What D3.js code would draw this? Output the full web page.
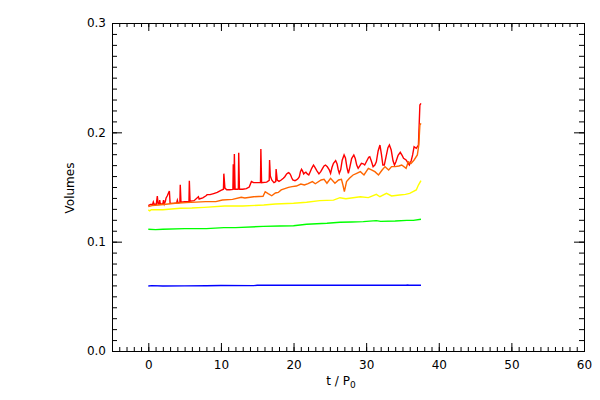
<!DOCTYPE html>
<html><head><meta charset="utf-8">
<script src="https://cdn.jsdelivr.net/npm/d3@7"></script>
<style>body{margin:0;background:#fff}svg{display:block}text{font-family:"DejaVu Sans",sans-serif;font-size:12px;fill:#000}</style>
</head><body>
<svg id="c" width="600" height="400"></svg>
<script>
const xTicks = [0, 10, 20, 30, 40, 50, 60];
const yTicks = [0.0, 0.1, 0.2, 0.3];
const xLabel = "t / P";
const yLabel = "Volumes";

const blue = [[0,0.0595],[0.5,0.0598],[2,0.0595],[5,0.0596],[8,0.0597],[10,0.0599],[14.5,0.0598],[15,0.0601],[25,0.0601],[35.5,0.0601],[35.7,0.0604],[35.9,0.0601],[37.55,0.0601]];
const green = [[0,0.1113],[1,0.1110],[2,0.1113],[5,0.1119],[8,0.1119],[10.4,0.1128],[12,0.1128],[15.8,0.1140],[18.1,0.1143],[20,0.1146],[21.8,0.1159],[24.6,0.1168],[26.4,0.1177],[28,0.1180],[29.6,0.1183],[31.4,0.1192],[32,0.1186],[34,0.1189],[35.6,0.1195],[36.5,0.1195],[37.55,0.1205]];
const yellow = [[0,0.1290],[0.2,0.1282],[0.4,0.1292],[2,0.1292],[4.4,0.1305],[6,0.1308],[7.7,0.1314],[10.5,0.1326],[13,0.1326],[15.9,0.1335],[17.5,0.1345],[20,0.1351],[21.8,0.1360],[23.6,0.1375],[25.5,0.1380],[26.4,0.1402],[27.2,0.1392],[28.2,0.1402],[29.2,0.1411],[30.3,0.1403],[31.4,0.1433],[31.9,0.1411],[32.8,0.1442],[33.5,0.1418],[34.6,0.1427],[35.4,0.1433],[36.0,0.1442],[36.9,0.1473],[37.2,0.1518],[37.55,0.1558]];
const orange = [[0,0.1320],[0.5,0.1330],[1.4,0.1335],[3.7,0.1351],[5.2,0.1357],[7.9,0.1366],[9.3,0.1366],[10.2,0.1381],[11.6,0.1387],[12.8,0.1406],[13.3,0.1400],[14.5,0.1411],[15.8,0.1415],[16.1,0.1457],[16.5,0.1440],[17.0,0.1420],[17.5,0.1445],[17.9,0.1450],[18.3,0.1473],[19.3,0.1497],[19.8,0.1503],[20.4,0.1509],[21.0,0.1527],[21.5,0.1518],[22.0,0.1530],[22.6,0.1549],[23.0,0.1530],[23.8,0.1564],[24.2,0.1570],[24.6,0.1534],[25.1,0.1580],[25.7,0.1534],[26.2,0.1564],[26.6,0.1570],[26.8,0.1518],[27.0,0.1457],[27.3,0.1550],[27.7,0.1580],[28.2,0.1610],[28.7,0.1625],[29.2,0.1640],[29.7,0.1610],[30.3,0.1671],[30.8,0.1655],[31.2,0.1640],[31.7,0.1610],[32.2,0.1655],[32.6,0.1686],[33.1,0.1655],[33.5,0.1686],[34.0,0.1686],[34.5,0.1692],[34.9,0.1701],[35.5,0.1671],[35.8,0.1731],[36.2,0.1716],[36.6,0.1747],[37.05,0.1793],[37.25,0.1884],[37.4,0.2067],[37.55,0.2083]];
const red = [[0,0.1329],[0.3,0.1340],[0.6,0.1342],[0.69,0.1363],[0.8,0.1342],[1.1,0.1342],[1.24,0.1418],[1.35,0.1345],[1.5,0.1345],[1.57,0.1380],[1.65,0.1345],[2.0,0.1345],[2.1,0.1380],[2.2,0.1345],[2.35,0.1370],[2.45,0.1400],[2.6,0.1418],[2.75,0.1440],[2.9,0.1463],[3.0,0.1350],[3.5,0.1350],[3.9,0.1355],[4.0,0.1380],[4.1,0.1355],[4.35,0.1358],[4.4,0.1521],[4.5,0.1360],[5.0,0.1365],[5.6,0.1368],[5.65,0.1558],[5.75,0.1370],[6.3,0.1375],[6.9,0.1410],[7.0,0.1390],[7.5,0.1400],[7.95,0.1420],[8.1,0.1430],[8.5,0.1430],[9.0,0.1440],[9.5,0.1450],[10.0,0.1470],[10.35,0.1480],[10.4,0.1622],[10.55,0.1490],[10.8,0.1475],[11.2,0.1475],[11.65,0.1478],[11.7,0.1708],[11.8,0.1475],[11.85,0.1802],[11.95,0.1480],[12.3,0.1480],[12.4,0.1482],[12.45,0.1814],[12.55,0.1480],[13.0,0.1480],[13.5,0.1485],[13.9,0.1500],[14.2,0.1550],[14.5,0.1540],[15.0,0.1540],[15.45,0.1542],[15.5,0.1848],[15.6,0.1540],[16.3,0.1545],[16.65,0.1560],[16.7,0.1747],[16.8,0.1600],[17.0,0.1564],[17.3,0.1540],[17.55,0.1550],[17.6,0.1665],[17.75,0.1564],[18.0,0.1552],[18.3,0.1564],[18.6,0.1580],[18.8,0.1594],[19.05,0.1620],[19.3,0.1631],[19.45,0.1625],[19.6,0.1610],[19.75,0.1585],[19.9,0.1564],[20.2,0.1558],[20.4,0.1564],[20.6,0.1575],[20.8,0.1594],[20.95,0.1640],[21.1,0.1662],[21.25,0.1645],[21.4,0.1620],[21.55,0.1630],[21.7,0.1635],[21.9,0.1620],[22.1,0.1610],[22.3,0.1640],[22.5,0.1671],[22.75,0.1701],[22.95,0.1680],[23.2,0.1650],[23.5,0.1620],[23.75,0.1640],[24.0,0.1670],[24.2,0.1692],[24.4,0.1701],[24.65,0.1685],[24.9,0.1660],[25.1,0.1625],[25.3,0.1680],[25.5,0.1717],[25.8,0.1741],[26.0,0.1710],[26.15,0.1660],[26.3,0.1625],[26.5,0.1660],[26.7,0.1745],[26.96,0.1793],[27.15,0.1765],[27.35,0.1680],[27.55,0.1625],[27.75,0.1680],[28.0,0.1760],[28.3,0.1793],[28.5,0.1760],[28.7,0.1700],[28.9,0.1671],[29.1,0.1690],[29.35,0.1717],[29.6,0.1712],[29.8,0.1701],[30.1,0.1740],[30.35,0.1772],[30.5,0.1777],[30.7,0.1740],[30.96,0.1686],[31.2,0.1700],[31.4,0.1731],[31.65,0.1830],[31.9,0.1884],[32.1,0.1800],[32.3,0.1701],[32.5,0.1701],[32.75,0.1780],[33.0,0.1860],[33.2,0.1884],[33.45,0.1838],[33.7,0.1740],[33.9,0.1701],[34.1,0.1731],[34.4,0.1790],[34.7,0.1817],[34.95,0.1790],[35.15,0.1762],[35.5,0.1747],[35.75,0.1720],[35.95,0.1701],[36.2,0.1740],[36.4,0.1793],[36.6,0.1869],[36.9,0.1854],[37.2,0.1884],[37.4,0.2250],[37.55,0.2265]];

const series = [
  {data: blue, color: "#0000ff"},
  {data: green, color: "#00ff00"},
  {data: yellow, color: "#ffff00"},
  {data: red, color: "#ff0000"},
  {data: orange, color: "#ff6600"}
];

const L = 112, R = 584, T = 23, B = 351;
const x = d3.scaleLinear().domain([-5, 60]).range([L, R]);
const y = d3.scaleLinear().domain([0, 0.3]).range([B, T]);
const svg = d3.select("#c");

const line = d3.line().x(d => x(d[0])).y(d => y(d[1]));
series.forEach(s => {
  svg.append("path").datum(s.data).attr("d", line)
    .attr("fill", "none").attr("stroke", s.color).attr("stroke-width", 1.4);
});

const minorX = d3.range(-5, 61, 1);
const minorY = d3.range(0, 0.3001, 0.01);

function styleAx(g){ g.selectAll("path").remove(); g.selectAll("line").attr("stroke","#000"); }

svg.append("g").attr("transform", `translate(0,${B})`)
  .call(d3.axisBottom(x).tickValues(minorX).tickSize(-4).tickFormat("")).call(styleAx);
svg.append("g").attr("transform", `translate(0,${B})`)
  .call(d3.axisBottom(x).tickValues(xTicks).tickSize(-8).tickPadding(9).tickFormat(d3.format("d"))).call(styleAx);
svg.append("g").attr("transform", `translate(0,${T})`)
  .call(d3.axisTop(x).tickValues(minorX).tickSize(-4).tickFormat("")).call(styleAx);
svg.append("g").attr("transform", `translate(0,${T})`)
  .call(d3.axisTop(x).tickValues(xTicks).tickSize(-8).tickFormat("")).call(styleAx);

svg.append("g").attr("transform", `translate(${L},0)`)
  .call(d3.axisLeft(y).tickValues(minorY).tickSize(-5).tickFormat("")).call(styleAx);
svg.append("g").attr("transform", `translate(${L},0)`)
  .call(d3.axisLeft(y).tickValues(yTicks).tickSize(-10).tickPadding(6).tickFormat(d3.format(".1f"))).call(styleAx);
svg.append("g").attr("transform", `translate(${R},0)`)
  .call(d3.axisRight(y).tickValues(minorY).tickSize(-5).tickFormat("")).call(styleAx);
svg.append("g").attr("transform", `translate(${R},0)`)
  .call(d3.axisRight(y).tickValues(yTicks).tickSize(-10).tickFormat("")).call(styleAx);

svg.selectAll("g text").style("font-family", "'DejaVu Sans',sans-serif").style("font-size", "12px").attr("fill", "#000");

svg.append("rect").attr("x", L).attr("y", T).attr("width", R - L).attr("height", B - T)
  .attr("fill", "none").attr("stroke", "#000").attr("stroke-width", 1).attr("shape-rendering", "crispEdges");

const xl = svg.append("text").attr("x", 341).attr("y", 385).attr("text-anchor", "middle");
xl.append("tspan").text(xLabel);
xl.append("tspan").attr("dy", 3).style("font-size", "9px").text("0");

svg.append("text").attr("transform", "translate(74,188) rotate(-90)").attr("text-anchor", "middle").text(yLabel);
</script>
</body></html>
